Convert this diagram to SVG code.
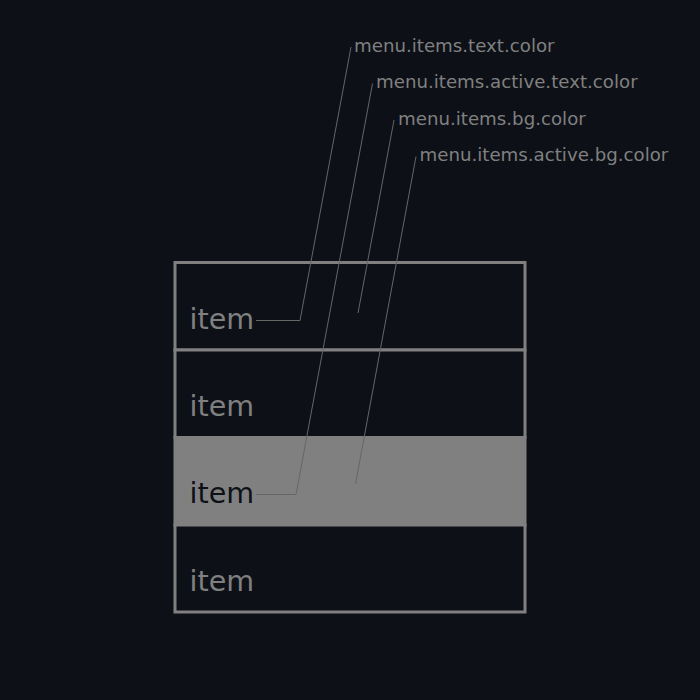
<svg xmlns="http://www.w3.org/2000/svg" width="700" height="700" viewBox="0 0 700 700">
<style>
.row{fill:#0d1017;stroke:#808080;stroke-width:3}
.active{fill:#808080;stroke:#808080;stroke-width:3}
.item{font-family:"DejaVu Sans",sans-serif;font-size:28.6px;fill:#808080}
.itemA{font-family:"DejaVu Sans",sans-serif;font-size:28.6px;fill:#0d1017}
.lbl{font-family:"DejaVu Sans",sans-serif;font-size:18.2px;fill:#808080}
.lead{fill:none;stroke:#666;stroke-width:1}
</style>
<rect width="700" height="700" fill="#0d1017"/>
<g id="row1"><rect class="row" x="175" y="262.5" width="350" height="87.5"/><text class="item" x="189.5" y="329">item</text></g>
<g id="row2"><rect class="row" x="175" y="350" width="350" height="87.5"/><text class="item" x="189.5" y="416">item</text></g>
<g id="row3"><rect class="active" x="175" y="437.5" width="350" height="87.5"/><text class="itemA" x="189.5" y="503">item</text></g>
<g id="row4"><rect class="row" x="175" y="525" width="350" height="87"/><text class="item" x="189.5" y="590.5">item</text></g>
<g id="labels">
<text class="lbl" x="354" y="51.5">menu.items.text.color</text>
<text class="lbl" x="376" y="88">menu.items.active.text.color</text>
<text class="lbl" x="398" y="124.5">menu.items.bg.color</text>
<text class="lbl" x="419.5" y="160.5">menu.items.active.bg.color</text>
</g>
<g id="connectors">
<polyline class="lead" points="351,47 300,320.5 256,320.5"/>
<polyline class="lead" points="372.5,83.5 296,494.5 256,494.5"/>
<polyline class="lead" points="394,120 358,313"/>
<polyline class="lead" points="416,156.5 355.5,484"/>
</g>
</svg>
